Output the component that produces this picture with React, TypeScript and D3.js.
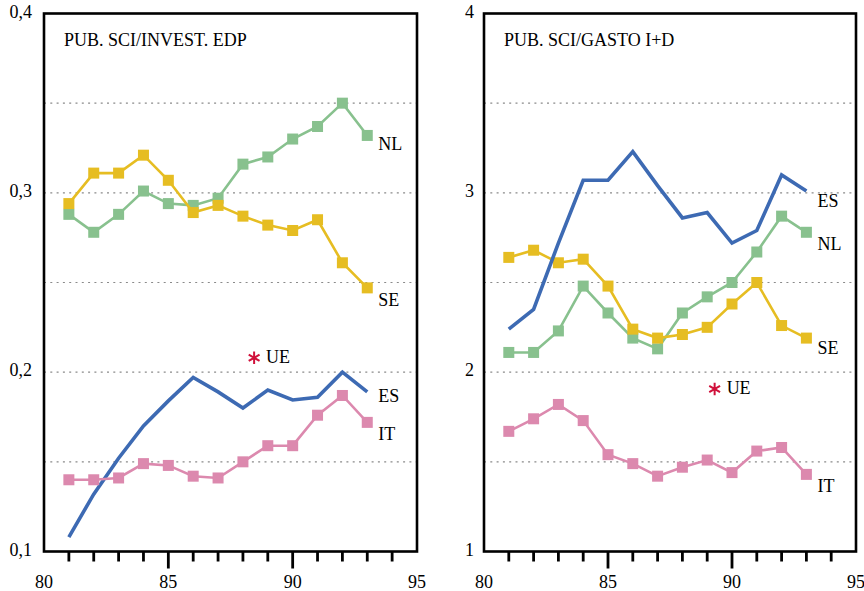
import React, { useEffect, useRef } from "react";
import * as d3 from "d3";

// years on the x axis (19xx)
const years = [81, 82, 83, 84, 85, 86, 87, 88, 89, 90, 91, 92, 93];
const xTicks = [81, 82, 83, 84, 85, 86, 87, 88, 89, 90, 91, 92, 93, 94];
const xLabels = [80, 85, 90, 95];

// left panel: PUB. SCI / INVEST. EDP
const edpNL = [0.288, 0.278, 0.288, 0.301, 0.294, 0.293, 0.297, 0.316, 0.32, 0.33, 0.337, 0.35, 0.332];
const edpSE = [0.294, 0.311, 0.311, 0.321, 0.307, 0.289, 0.293, 0.287, 0.282, 0.279, 0.285, 0.261, 0.247];
const edpES = [0.108, 0.132, 0.152, 0.17, 0.184, 0.197, 0.189, 0.18, 0.19, 0.1845, 0.186, 0.2, 0.189];
const edpIT = [0.14, 0.14, 0.141, 0.149, 0.148, 0.142, 0.141, 0.15, 0.159, 0.159, 0.176, 0.187, 0.172];
const edpUE = [88.45, 0.208];
const edpTicks = [0.1, 0.2, 0.3, 0.4];
const edpGrid = [0.15, 0.2, 0.25, 0.3, 0.35];

// right panel: PUB. SCI / GASTO I+D
const gastoES = [2.24, 2.35, 2.72, 3.07, 3.07, 3.23, 3.04, 2.86, 2.89, 2.72, 2.79, 3.1, 3.01];
const gastoNL = [2.11, 2.11, 2.23, 2.48, 2.33, 2.19, 2.13, 2.33, 2.42, 2.5, 2.67, 2.87, 2.78];
const gastoSE = [2.64, 2.68, 2.61, 2.63, 2.48, 2.24, 2.19, 2.21, 2.25, 2.38, 2.5, 2.26, 2.19];
const gastoIT = [1.67, 1.74, 1.82, 1.73, 1.54, 1.49, 1.42, 1.47, 1.51, 1.44, 1.56, 1.58, 1.43];
const gastoUE = [89.3, 1.906];
const gastoTicks = [1, 2, 3, 4];
const gastoGrid = [1.5, 2, 2.5, 3, 3.5];

const colors = {
  ES: "#3d6ab3",
  NL: "#88c18e",
  SE: "#e6bd22",
  IT: "#dc89ae",
  UE: "#d0103a",
};

const W = 864;
const H = 591;

const drawPanel = (svg, cfg) => {
  const { left, right, top, bottom } = cfg;
  const x = d3.scaleLinear().domain([80, 95]).range([left, right]);
  const y = d3.scaleLinear().domain(cfg.domain).range([bottom, top]);
  const g = svg.append("g");

  // dotted grid
  g.selectAll(".grid")
    .data(cfg.grid)
    .enter()
    .append("line")
    .attr("x1", left)
    .attr("x2", right)
    .attr("y1", (d) => y(d))
    .attr("y2", (d) => y(d))
    .attr("stroke", "#8a8a8a")
    .attr("stroke-width", 1.2)
    .attr("stroke-dasharray", "2,4.3");

  // frame
  g.append("rect")
    .attr("x", left)
    .attr("y", top)
    .attr("width", right - left)
    .attr("height", bottom - top)
    .attr("fill", "none")
    .attr("stroke", "#000")
    .attr("stroke-width", 2.6);

  // x ticks
  g.selectAll(".xtick")
    .data(xTicks)
    .enter()
    .append("line")
    .attr("x1", (d) => x(d))
    .attr("x2", (d) => x(d))
    .attr("y1", bottom)
    .attr("y2", (d) => bottom + (d % 5 === 0 ? 17 : 10))
    .attr("stroke", "#000")
    .attr("stroke-width", 2.8);

  g.selectAll(".xlab")
    .data(xLabels)
    .enter()
    .append("text")
    .attr("x", (d) => x(d))
    .attr("y", bottom + 32)
    .attr("text-anchor", "middle")
    .attr("dominant-baseline", "middle")
    .text((d) => d);

  g.selectAll(".ylab")
    .data(cfg.ticks)
    .enter()
    .append("text")
    .attr("x", left - cfg.yLabelGap)
    .attr("y", (d) => y(d))
    .attr("text-anchor", "end")
    .attr("dominant-baseline", "middle")
    .text((d) => cfg.fmt(d));

  g.append("text")
    .attr("x", left + cfg.titleDx)
    .attr("y", top + 32)
    .text(cfg.title);

  const line = d3
    .line()
    .x((d, i) => x(years[i]))
    .y((d) => y(d));

  cfg.series.forEach((s) => {
    g.append("path")
      .datum(s.values)
      .attr("d", line)
      .attr("fill", "none")
      .attr("stroke", colors[s.name])
      .attr("stroke-width", s.markers ? 2.6 : 3.6)
      .attr("stroke-linejoin", "miter");

    if (s.markers) {
      g.selectAll(".m" + s.name)
        .data(s.values)
        .enter()
        .append("rect")
        .attr("x", (d, i) => x(years[i]) - 5.5)
        .attr("y", (d) => y(d) - 5.5)
        .attr("width", 11)
        .attr("height", 11)
        .attr("fill", colors[s.name]);
    }

    const last = s.values[s.values.length - 1];
    g.append("text")
      .attr("x", x(years[years.length - 1]) + 11)
      .attr("y", y(last) + s.labelDy)
      .attr("dominant-baseline", "middle")
      .text(s.name);
  });

  // UE marker
  g.append("path")
    .attr("d", d3.symbol(d3.symbolAsterisk, 110)())
    .attr("transform", `translate(${x(cfg.ue[0])},${y(cfg.ue[1])})`)
    .attr("stroke", colors.UE)
    .attr("stroke-width", 2);
  g.append("text")
    .attr("x", x(cfg.ue[0]) + 12)
    .attr("y", y(cfg.ue[1]) + 1)
    .attr("dominant-baseline", "middle")
    .text("UE");
};

export default function App() {
  const svgRef = useRef(null);

  useEffect(() => {
    const svg = d3.select(svgRef.current);
    svg.selectAll("*").remove();

    drawPanel(svg, {
      left: 44,
      right: 417,
      top: 13.5,
      bottom: 551.5,
      domain: [0.1, 0.4],
      ticks: edpTicks,
      grid: edpGrid,
      fmt: (d) => d3.format(".1f")(d).replace(".", ","),
      yLabelGap: 12,
      title: "PUB. SCI/INVEST. EDP",
      titleDx: 20,
      ue: edpUE,
      series: [
        { name: "NL", values: edpNL, markers: true, labelDy: 10 },
        { name: "SE", values: edpSE, markers: true, labelDy: 14 },
        { name: "ES", values: edpES, markers: false, labelDy: 6 },
        { name: "IT", values: edpIT, markers: true, labelDy: 13 },
      ],
    });

    drawPanel(svg, {
      left: 484,
      right: 856,
      top: 13.5,
      bottom: 551.5,
      domain: [1, 4],
      ticks: gastoTicks,
      grid: gastoGrid,
      fmt: (d) => String(d),
      yLabelGap: 10,
      title: "PUB. SCI/GASTO I+D",
      titleDx: 20,
      ue: gastoUE,
      series: [
        { name: "NL", values: gastoNL, markers: true, labelDy: 14 },
        { name: "SE", values: gastoSE, markers: true, labelDy: 12 },
        { name: "ES", values: gastoES, markers: false, labelDy: 12 },
        { name: "IT", values: gastoIT, markers: true, labelDy: 13 },
      ],
    });
  }, []);

  return (
    <svg
      ref={svgRef}
      width={W}
      height={H}
      style={{
        position: "absolute",
        left: 0,
        top: 0,
        background: "#fff",
        fontFamily: "'Liberation Serif', 'Times New Roman', serif",
        fontSize: 18,
      }}
    ></svg>
  );
}
